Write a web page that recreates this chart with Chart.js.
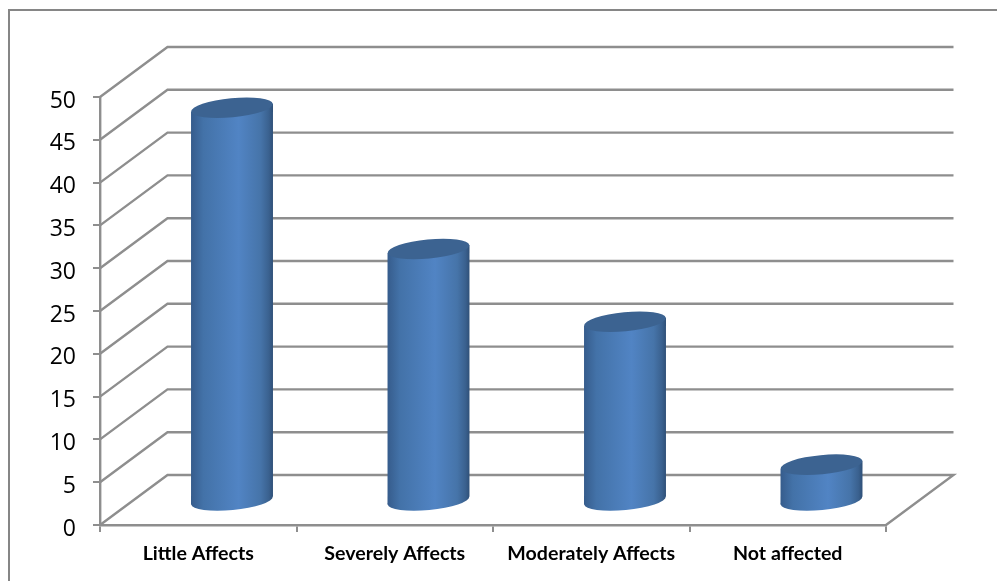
<!DOCTYPE html>
<html>
<head>
<meta charset="utf-8">
<script src="https://cdn.jsdelivr.net/npm/chart.js@4/dist/chart.umd.min.js"></script>
<style>
  html, body { margin: 0; padding: 0; background: #fff; overflow: hidden; }
  #frame { position: absolute; left: 8px; top: 9px; right: 0; bottom: 0; border-left: 2px solid #868686; border-top: 2px solid #868686; }
  canvas { position: absolute; left: 0; top: 0; }
</style>
</head>
<body>
<div id="frame"></div>
<canvas id="myChart" width="997" height="581"></canvas>
<script>
const categories = ["Little Affects", "Severely Affects", "Moderately Affects", "Not affected"];
const values = [46, 29.5, 21, 4.3];
const yMax = 50;
const yStep = 5;

const GRID = "#8e8e8e";
const DEPTH_X = 67.5;
const DEPTH_Y = 50;

// back wall and floor lines, Chart.js has no 3d so these follow the y scale
const walls = {
  id: "walls",
  beforeDatasetsDraw(chart) {
    const { ctx, scales, chartArea } = chart;
    ctx.save();
    ctx.strokeStyle = GRID;
    ctx.lineWidth = 2.4;
    scales.y.ticks.forEach((t) => {
      const y = scales.y.getPixelForValue(t.value);
      ctx.beginPath();
      ctx.moveTo(chartArea.left, y);
      ctx.lineTo(chartArea.left + DEPTH_X, y - DEPTH_Y);
      ctx.lineTo(chartArea.right + DEPTH_X, y - DEPTH_Y);
      if (t.value === 0) ctx.lineTo(chartArea.right, y);
      ctx.stroke();
    });
    ctx.restore();
  },
};

// cylinders placed on the bar elements
const cylinders = {
  id: "cylinders",
  afterDatasetsDraw(chart) {
    const { ctx } = chart;
    const tilt = (5.5 * Math.PI) / 180;
    chart.getDatasetMeta(0).data.forEach((bar) => {
      const cx = bar.x + DEPTH_X / 2;
      const top = bar.y - 23.5;
      const bottom = bar.base - 23.5;
      const half = bar.width / 2;
      const rx = half;
      const ry = 9.6;
      const lift = 4;

      const g = ctx.createLinearGradient(cx - half, 0, cx + half, 0);
      g.addColorStop(0, "#365c8c");
      g.addColorStop(0.15, "#4372a8");
      g.addColorStop(0.58, "#5184c4");
      g.addColorStop(0.85, "#4674a9");
      g.addColorStop(0.95, "#3a618f");
      g.addColorStop(1, "#2f5078");

      ctx.save();
      ctx.fillStyle = g;
      ctx.beginPath();
      ctx.ellipse(cx, bottom, rx, ry, -tilt, 0, Math.PI * 2);
      ctx.fill();
      ctx.beginPath();
      ctx.moveTo(cx - half, top + lift);
      ctx.lineTo(cx + half, top - lift);
      ctx.lineTo(cx + half, bottom - lift);
      ctx.lineTo(cx - half, bottom + lift);
      ctx.closePath();
      ctx.fill();
      ctx.fillStyle = "#3c6391";
      ctx.beginPath();
      ctx.ellipse(cx, top, rx, ry, -tilt, 0, Math.PI * 2);
      ctx.fill();
      ctx.restore();
    });
  },
};

new Chart(document.getElementById("myChart").getContext("2d"), {
  type: "bar",
  data: {
    labels: categories,
    datasets: [
      {
        data: values,
        backgroundColor: "rgba(0,0,0,0)",
        barPercentage: 0.417,
        categoryPercentage: 1,
      },
    ],
  },
  options: {
    responsive: false,
    animation: false,
    layout: { padding: { top: 97, right: 111, left: 0, bottom: 0 } },
    plugins: { legend: { display: false }, tooltip: { enabled: false } },
    scales: {
      x: {
        afterFit: (s) => { s.height = 56; },
        border: { color: GRID, width: 2.4 },
        grid: { drawOnChartArea: false, color: GRID, lineWidth: 2, tickLength: 7 },
        ticks: {
          color: "#000",
          padding: 10,
          maxRotation: 0,
          font: { family: "Lato", size: 19.6, weight: "bold" },
        },
      },
      y: {
        min: 0,
        max: yMax,
        afterFit: (s) => { s.width = 100; },
        border: { color: GRID, width: 2.4 },
        grid: { drawOnChartArea: false, color: GRID, lineWidth: 2, tickLength: 7 },
        ticks: {
          stepSize: yStep,
          color: "#000",
          padding: 17,
          // empty first line pushes the number down a few px
          callback: (v) => ["", String(v)],
          font: { family: "Open Sans", size: 23, lineHeight: "8px" },
        },
      },
    },
  },
  plugins: [walls, cylinders],
});
</script>
</body>
</html>
